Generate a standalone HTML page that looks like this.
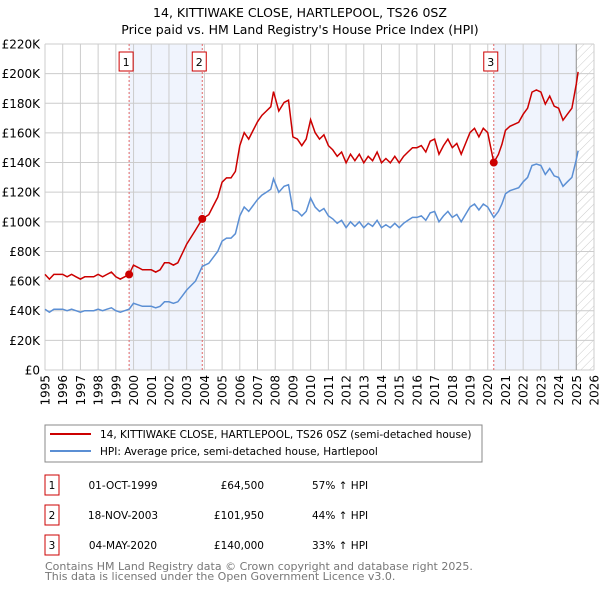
<!DOCTYPE html>
<html><head><meta charset="utf-8"><style>
body{margin:0;background:#fff;font-family:"Liberation Sans","DejaVu Sans",sans-serif;}
svg text{font-family:"DejaVu Sans","Liberation Sans",sans-serif;}
</style></head><body>
<svg id="c" width="600" height="590" xmlns="http://www.w3.org/2000/svg">
<defs><pattern id="hatch" width="6" height="6" patternUnits="userSpaceOnUse" patternTransform="rotate(45)"><line x1="0" y1="0" x2="0" y2="6" stroke="#ccc" stroke-width="1"/></pattern></defs>
<text x="300" y="17" text-anchor="middle" font-size="12.5" fill="#000">14, KITTIWAKE CLOSE, HARTLEPOOL, TS26 0SZ</text>
<text x="300" y="34" text-anchor="middle" font-size="12.5" fill="#000">Price paid vs. HM Land Registry's House Price Index (HPI)</text>
<g id="plot"></g>
<rect x="45" y="425" width="437" height="37" fill="#fff" stroke="#888"/>
<line x1="50" y1="434" x2="91" y2="434" stroke="#cc0000" stroke-width="2"/>
<text x="100" y="438" font-size="10.5">14, KITTIWAKE CLOSE, HARTLEPOOL, TS26 0SZ (semi-detached house)</text>
<line x1="50" y1="451" x2="91" y2="451" stroke="#5b8fd4" stroke-width="2"/>
<text x="100" y="455" font-size="10.5">HPI: Average price, semi-detached house, Hartlepool</text>
<g id="table" font-size="10.5"></g>
<text x="45" y="570" font-size="11" fill="#777">Contains HM Land Registry data © Crown copyright and database right 2025.</text>
<text x="45" y="580" font-size="11" fill="#777">This data is licensed under the Open Government Licence v3.0.</text>
</svg>
<script>
const hpiYears=[
1995.0,1995.25,1995.5,1995.75,
1996.0,1996.25,1996.5,1996.75,
1997.0,1997.25,1997.5,1997.75,
1998.0,1998.25,1998.5,1998.75,
1999.0,1999.25,1999.5,1999.75,
2000.0,2000.25,2000.5,2000.75,
2001.0,2001.25,2001.5,2001.75,
2002.0,2002.25,2002.5,2002.75,
2003.0,2003.25,2003.5,2003.88,
2004.25,2004.5,2004.75,
2005.0,2005.25,2005.5,2005.75,
2006.0,2006.25,2006.5,2006.75,
2007.0,2007.25,2007.5,2007.75,
2007.9,2008.2,2008.5,2008.75,
2009.0,2009.25,2009.5,2009.75,
2010.0,2010.25,2010.5,2010.75,
2011.0,2011.25,2011.5,2011.75,
2012.0,2012.25,2012.5,2012.75,
2013.0,2013.25,2013.5,2013.75,
2014.0,2014.25,2014.5,2014.75,
2015.0,2015.25,2015.5,2015.75,
2016.0,2016.25,2016.5,2016.75,
2017.0,2017.25,2017.5,2017.75,
2018.0,2018.25,2018.5,2018.75,
2019.0,2019.25,2019.5,2019.75,
2020.0,2020.34,2020.6,2020.8,
2021.0,2021.25,2021.5,2021.75,
2022.0,2022.25,2022.5,2022.75,
2023.0,2023.25,2023.5,2023.75,
2024.0,2024.25,2024.5,2024.75,
2025.0,2025.1];
const hpiValues=[
41,39,41,41,
41,40,41,40,
39,40,40,40,
41,40,41,42,
40,39,40,41,
45,44,43,43,
43,42,43,46,
46,45,46,50,
54,57,60,70,
72,76,80,
87,89,89,92,
104,110,107,111,
115,118,120,122,
129,120,124,125,
108,107,104,107,
116,110,107,109,
104,102,99,101,
96,100,97,100,
96,99,97,101,
96,98,96,99,
96,99,101,103,
103,104,101,106,
107,100,104,107,
103,105,100,105,
110,112,108,112,
110,103,107,112,
119,121,122,123,
127,130,138,139,
138,132,136,131,
130,124,127,130,
142,148];
const saleYears=[1999.75,2003.88,2020.34];
const salePrices=[64.5,101.95,140.0];
const saleLabels=["1","2","3"];
const saleDates=["01-OCT-1999","18-NOV-2003","04-MAY-2020"];
const salePriceText=["£64,500","£101,950","£140,000"];
const saleHpiText=["57% ↑ HPI","44% ↑ HPI","33% ↑ HPI"];
const yTicks=[0,20,40,60,80,100,120,140,160,180,200,220];
const xTicks=[1995,1996,1997,1998,1999,2000,2001,2002,2003,2004,2005,2006,2007,2008,2009,2010,2011,2012,2013,2014,2015,2016,2017,2018,2019,2020,2021,2022,2023,2024,2025,2026];

const NS="http://www.w3.org/2000/svg";
const X0=45,X1=594,Y0=370,Y1=44;
const xs=y=>X0+(y-1995)/(2026-1995)*(X1-X0);
const ys=v=>Y0-v/220*(Y0-Y1);
const plot=document.getElementById('plot');
function mk(tag,attrs,parent){const e=document.createElementNS(NS,tag);for(const k in attrs)e.setAttribute(k,attrs[k]);(parent||plot).appendChild(e);return e;}
function hpiAt(y){for(let i=1;i<hpiYears.length;i++){if(y<=hpiYears[i]){const t=(y-hpiYears[i-1])/(hpiYears[i]-hpiYears[i-1]);return hpiValues[i-1]+t*(hpiValues[i]-hpiValues[i-1]);}}return hpiValues[hpiValues.length-1];}

let r=mk('rect',{x:X0,y:Y1,width:X1-X0,height:Y0-Y1,fill:'#fff'});


[[saleYears[0],saleYears[1]],[saleYears[2],2025.0]].forEach(s=>{
 const e=mk('rect',{x:xs(s[0]),y:Y1,width:xs(s[1])-xs(s[0]),height:Y0-Y1,fill:'#f0f4fd'});
 
 
});
let h=mk('rect',{x:xs(2025),y:Y1,width:X1-xs(2025),height:Y0-Y1,fill:'url(#hatch)'});


yTicks.forEach(v=>{
 const g=mk('line',{x1:X0,x2:X1,y1:ys(v),y2:ys(v),stroke:'#ccc','stroke-width':1});
 
 
 const t=mk('text',{x:40,y:ys(v)+4.5,'text-anchor':'end','font-size':'12',fill:'#000'});
 t.textContent=v===0?'£0':'£'+v+'K';
 
 
});
xTicks.forEach(y=>{
 const g=mk('line',{x1:xs(y),x2:xs(y),y1:Y1,y2:Y0,stroke:'#ccc','stroke-width':1});
 
 
 const t=mk('text',{x:0,y:0,'text-anchor':'end','font-size':'12',transform:`translate(${xs(y)+4.5},375) rotate(-90)`});
 t.textContent=y;
 
 
});
let vl=mk('line',{x1:xs(2025),x2:xs(2025),y1:Y1,y2:Y0,stroke:'#999','stroke-width':1});


saleYears.forEach((y,i)=>{
 const l=mk('line',{x1:xs(y),x2:xs(y),y1:Y1,y2:Y0,stroke:'#e06666','stroke-width':1,'stroke-dasharray':'2,2'});
 
 
 const b=mk('rect',{x:xs(y)-10,y:52,width:14,height:19,fill:'#fff',stroke:'#cc0000'});
 
 
 const t=mk('text',{x:xs(y)-3,y:66,'text-anchor':'middle','font-size':'11'});
 t.textContent=saleLabels[i];
 
 
});
let d='';hpiYears.forEach((y,i)=>{d+=(i?'L':'M')+xs(y).toFixed(1)+','+ys(hpiValues[i]).toFixed(1);});
let hl=mk('path',{d,fill:'none',stroke:'#5b8fd4','stroke-width':1.5});


const factors=saleYears.map((y,i)=>salePrices[i]/hpiAt(y));
let pts=[];hpiYears.forEach((y,i)=>{pts.push([y,hpiValues[i]]);});
saleYears.forEach(y=>{if(!hpiYears.includes(y))pts.push([y,hpiAt(y)]);});
pts.sort((a,b)=>a[0]-b[0]);
d='';pts.forEach((p,i)=>{let k=0;for(let j=0;j<saleYears.length;j++)if(p[0]>=saleYears[j])k=j;d+=(i?'L':'M')+xs(p[0]).toFixed(1)+','+ys(p[1]*factors[k]).toFixed(1);});
let pl=mk('path',{d,fill:'none',stroke:'#cc0000','stroke-width':1.5});


saleYears.forEach((y,i)=>{
 const c=mk('circle',{cx:xs(y),cy:ys(salePrices[i]),r:4,fill:'#cc0000'});
 
 
});
const tb=document.getElementById('table');
saleYears.forEach((y,i)=>{
 const ry=483+i*30;
 const b=mk('rect',{x:45,y:ry-8,width:14,height:20,fill:'#fff',stroke:'#cc0000'},tb);
 
 
 const cols=[[52,'middle',saleLabels[i],'table-marker-label'],[123,'middle',saleDates[i],'table-date'],[264,'end',salePriceText[i],'table-price'],[312,'start',saleHpiText[i],'table-hpi-change']];
 cols.forEach(c=>{const t=mk('text',{x:c[0],y:ry+6,'text-anchor':c[1],'font-size':'10.5'},tb);t.textContent=c[2];
  
  });
});
</script>
</body></html>
